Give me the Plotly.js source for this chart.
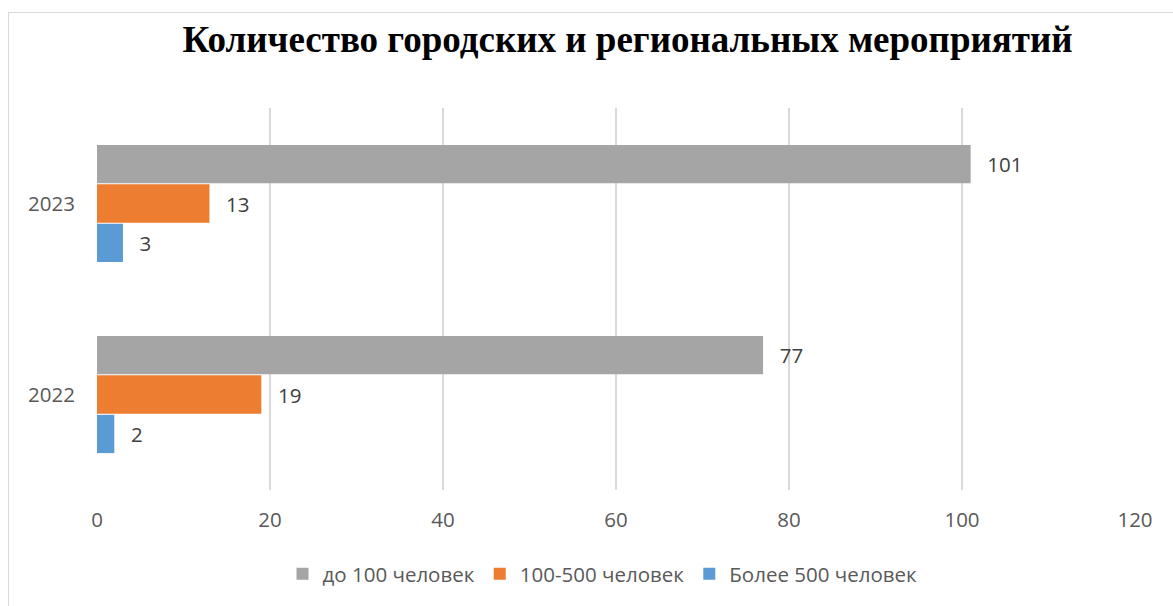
<!DOCTYPE html>
<html>
<head>
<meta charset="utf-8">
<script src="https://cdn.plot.ly/plotly-3.0.1.min.js"></script>
<style>
  html, body { margin: 0; padding: 0; background: #fff; overflow: hidden; }
  #frame { position: absolute; left: 8px; top: 12px; width: 1200px; height: 640px;
           border-left: 1px solid #d9d9d9; border-top: 1px solid #d9d9d9; pointer-events: none; }
  #chart { width: 1173px; height: 606px; }
</style>
</head>
<body>
<div id="chart"></div>
<div id="frame"></div>
<script>
  const years = ["2022", "2023"];
  const under100 = [77, 101];
  const from100to500 = [19, 13];
  const over500 = [2, 3];

  const LABEL_FONT = { family: "'Open Sans', sans-serif", size: 20.5, color: "#404040" };

  function barTrace(name, values, color) {
    return {
      type: "bar",
      orientation: "h",
      name: name,
      y: years,
      x: values,
      marker: { color: color },
      // pad the labels a little away from the bar ends
      text: values.map(v => "\u2002\u2009" + v),
      textposition: "outside",
      textfont: LABEL_FONT,
      cliponaxis: false,
      hoverinfo: "x+name",
    };
  }

  // first trace is drawn lowest in each group, so blue goes first
  const traces = [
    barTrace("Более 500 человек", over500, "#5b9bd5"),
    barTrace("100-500 человек", from100to500, "#ed7d31"),
    barTrace("до 100 человек", under100, "#a5a5a5"),
  ];

  const layout = {
    width: 1173,
    height: 606,
    paper_bgcolor: "#fff",
    plot_bgcolor: "#fff",
    margin: { l: 97, r: 38, t: 108, b: 116 },
    font: { family: "'Open Sans', sans-serif", color: "#595959", size: 20.5 },
    title: {
      text: "<b>Количество городских и региональных мероприятий</b>",
      font: { family: "'Liberation Serif', 'Times New Roman', serif", size: 37, color: "#000" },
      x: 0.535,
      xanchor: "center",
      y: 0.935,
      yanchor: "middle",
    },
    barmode: "group",
    bargap: 0.38,
    bargroupgap: 0.03,
    xaxis: {
      range: [0, 120],
      dtick: 20,
      showgrid: true,
      gridcolor: "#d9d9d9",
      gridwidth: 1.5,
      zeroline: false,
      showline: false,
      ticks: "",
      ticklabelstandoff: 15,
      tickfont: { size: 20.5, color: "#595959" },
    },
    yaxis: {
      type: "category",
      range: [-0.5, 1.5],
      showgrid: false,
      zeroline: false,
      showline: false,
      ticks: "",
      ticklabelstandoff: 21,
      tickfont: { size: 20.5, color: "#595959" },
    },
    showlegend: true,
    legend: {
      orientation: "h",
      traceorder: "reversed",
      x: 0.487,
      xanchor: "center",
      y: -0.22,
      yanchor: "middle",
      font: { size: 20.5, color: "#595959" },
      itemwidth: 30,
    },
  };

  Plotly.newPlot("chart", traces, layout, { displayModeBar: false, staticPlot: true });
</script>
</body>
</html>
